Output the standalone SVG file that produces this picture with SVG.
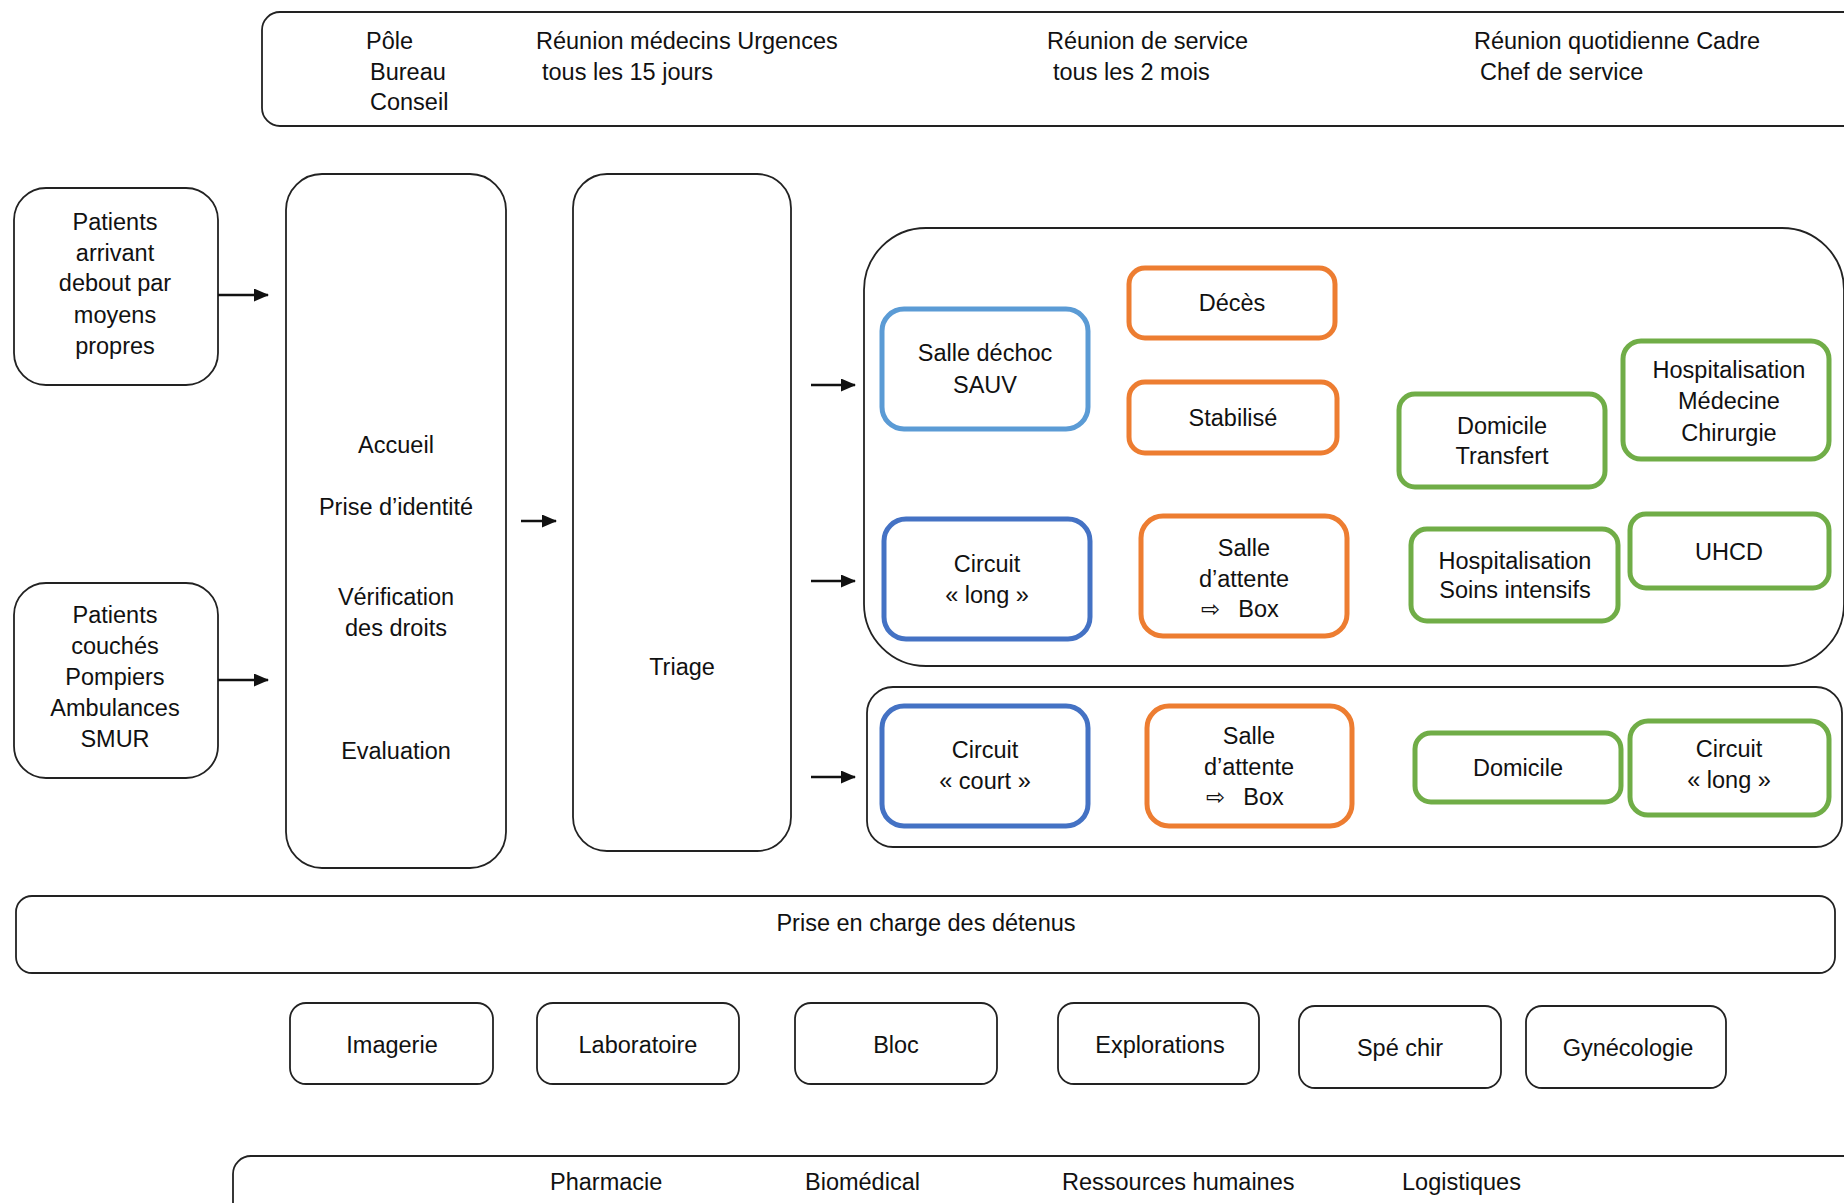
<svg xmlns="http://www.w3.org/2000/svg" width="1844" height="1203" viewBox="0 0 1844 1203">
<style>
text{font-family:"Liberation Sans",Arial,sans-serif;font-size:23.5px;fill:#111}
.c{text-anchor:middle}
.box{fill:#fff;stroke:#222;stroke-width:1.8}
.lb{fill:#fff;stroke:#5B9BD5;stroke-width:5}
.db{fill:#fff;stroke:#4472C4;stroke-width:5}
.or{fill:#fff;stroke:#ED7D31;stroke-width:5}
.gr{fill:#fff;stroke:#70AD47;stroke-width:5}
.arr{stroke:#111;stroke-width:2.5;fill:none;marker-end:url(#ah)}
.sym{font-family:"DejaVu Sans",sans-serif;font-size:23px}
</style>
<defs>
<marker id="ah" markerUnits="userSpaceOnUse" markerWidth="15" markerHeight="13" refX="14" refY="6.5" orient="auto">
<path d="M0,0 L15,6.5 L0,13 z" fill="#111"/>
</marker>
</defs>
<rect width="1844" height="1203" fill="#fff"/>

<g id="reunions">
<rect class="box" x="262" y="12" width="1600" height="114" rx="18"/>
<text x="366" y="49">Pôle</text>
<text x="370" y="80">Bureau</text>
<text x="370" y="110">Conseil</text>
<text x="536" y="49">Réunion médecins Urgences</text>
<text x="542" y="80">tous les 15 jours</text>
<text x="1047" y="49">Réunion de service</text>
<text x="1053" y="80">tous les 2 mois</text>
<text x="1474" y="49">Réunion quotidienne Cadre</text>
<text x="1480" y="80">Chef de service</text>
</g>

<g id="patients-debout">
<rect class="box" x="14" y="188" width="204" height="197" rx="32"/>
<text class="c" x="115" y="230">Patients</text>
<text class="c" x="115" y="261">arrivant</text>
<text class="c" x="115" y="291">debout par</text>
<text class="c" x="115" y="323">moyens</text>
<text class="c" x="115" y="354">propres</text>
</g>

<g id="patients-couches">
<rect class="box" x="14" y="583" width="204" height="195" rx="32"/>
<text class="c" x="115" y="623">Patients</text>
<text class="c" x="115" y="654">couchés</text>
<text class="c" x="115" y="685">Pompiers</text>
<text class="c" x="115" y="716">Ambulances</text>
<text class="c" x="115" y="747">SMUR</text>
</g>

<g id="accueil">
<rect class="box" x="286" y="174" width="220" height="694" rx="36"/>
<text class="c" x="396" y="453">Accueil</text>
<text class="c" x="396" y="515">Prise d’identité</text>
<text class="c" x="396" y="605">Vérification</text>
<text class="c" x="396" y="636">des droits</text>
<text class="c" x="396" y="759">Evaluation</text>
</g>

<g id="triage">
<rect class="box" x="573" y="174" width="218" height="677" rx="34"/>
<text class="c" x="682" y="675">Triage</text>
</g>

<g id="zone-longue">
<rect class="box" x="864" y="228" width="980" height="438" rx="62"/>
</g>
<g id="zone-courte">
<rect class="box" x="867" y="687" width="975" height="160" rx="26"/>
</g>

<g id="salle-dechoc">
<rect class="lb" x="882" y="309" width="206" height="120" rx="22"/>
<text class="c" x="985" y="361">Salle déchoc</text>
<text class="c" x="985" y="393">SAUV</text>
</g>
<g id="deces">
<rect class="or" x="1129" y="268" width="206" height="70" rx="16"/>
<text class="c" x="1232" y="311">Décès</text>
</g>
<g id="stabilise">
<rect class="or" x="1129" y="382" width="208" height="71" rx="16"/>
<text class="c" x="1233" y="426">Stabilisé</text>
</g>
<g id="domicile-transfert">
<rect class="gr" x="1399" y="394" width="206" height="93" rx="16"/>
<text class="c" x="1502" y="434">Domicile</text>
<text class="c" x="1502" y="464">Transfert</text>
</g>
<g id="hosp-med-chir">
<rect class="gr" x="1623" y="341" width="206" height="118" rx="18"/>
<text class="c" x="1729" y="378">Hospitalisation</text>
<text class="c" x="1729" y="409">Médecine</text>
<text class="c" x="1729" y="441">Chirurgie</text>
</g>
<g id="circuit-long">
<rect class="db" x="884" y="519" width="206" height="120" rx="22"/>
<text class="c" x="987" y="572">Circuit</text>
<text class="c" x="987" y="603">« long »</text>
</g>
<g id="salle-attente-1">
<rect class="or" x="1141" y="516" width="206" height="120" rx="22"/>
<text class="c" x="1244" y="556">Salle</text>
<text class="c" x="1244" y="587">d’attente</text>
<text x="1201" y="617"><tspan class="sym">⇨</tspan><tspan dx="18">Box</tspan></text>
</g>
<g id="hosp-soins-intensifs">
<rect class="gr" x="1411" y="529" width="207" height="92" rx="16"/>
<text class="c" x="1515" y="569">Hospitalisation</text>
<text class="c" x="1515" y="598">Soins intensifs</text>
</g>
<g id="uhcd">
<rect class="gr" x="1630" y="514" width="199" height="74" rx="16"/>
<text class="c" x="1729" y="560">UHCD</text>
</g>

<g id="circuit-court">
<rect class="db" x="882" y="706" width="206" height="120" rx="22"/>
<text class="c" x="985" y="758">Circuit</text>
<text class="c" x="985" y="789">« court »</text>
</g>
<g id="salle-attente-2">
<rect class="or" x="1147" y="706" width="205" height="120" rx="22"/>
<text class="c" x="1249" y="744">Salle</text>
<text class="c" x="1249" y="775">d’attente</text>
<text x="1206" y="805"><tspan class="sym">⇨</tspan><tspan dx="18">Box</tspan></text>
</g>
<g id="domicile">
<rect class="gr" x="1415" y="733" width="206" height="69" rx="16"/>
<text class="c" x="1518" y="776">Domicile</text>
</g>
<g id="circuit-long-2">
<rect class="gr" x="1630" y="721" width="199" height="94" rx="18"/>
<text class="c" x="1729" y="757">Circuit</text>
<text class="c" x="1729" y="788">« long »</text>
</g>

<g id="detenus">
<rect class="box" x="16" y="896" width="1819" height="77" rx="16"/>
<text class="c" x="926" y="931">Prise en charge des détenus</text>
</g>

<g id="imagerie"><rect class="box" x="290" y="1003" width="203" height="81" rx="16"/><text class="c" x="392" y="1053">Imagerie</text></g>
<g id="laboratoire"><rect class="box" x="537" y="1003" width="202" height="81" rx="16"/><text class="c" x="638" y="1053">Laboratoire</text></g>
<g id="bloc"><rect class="box" x="795" y="1003" width="202" height="81" rx="16"/><text class="c" x="896" y="1053">Bloc</text></g>
<g id="explorations"><rect class="box" x="1058" y="1003" width="201" height="81" rx="16"/><text class="c" x="1160" y="1053">Explorations</text></g>
<g id="spe-chir"><rect class="box" x="1299" y="1006" width="202" height="82" rx="16"/><text class="c" x="1400" y="1056">Spé chir</text></g>
<g id="gynecologie"><rect class="box" x="1526" y="1006" width="200" height="82" rx="16"/><text class="c" x="1628" y="1056">Gynécologie</text></g>

<g id="support">
<rect class="box" x="233" y="1156" width="1630" height="80" rx="18"/>
<text x="550" y="1190">Pharmacie</text>
<text x="805" y="1190">Biomédical</text>
<text x="1062" y="1190">Ressources humaines</text>
<text x="1402" y="1190">Logistiques</text>
</g>

<g id="connectors">
<line class="arr" x1="218" y1="295" x2="268" y2="295"/>
<line class="arr" x1="218" y1="680" x2="268" y2="680"/>
<line class="arr" x1="521" y1="521" x2="556" y2="521"/>
<line class="arr" x1="811" y1="385" x2="855" y2="385"/>
<line class="arr" x1="811" y1="581" x2="855" y2="581"/>
<line class="arr" x1="811" y1="777" x2="855" y2="777"/>
</g>
</svg>
